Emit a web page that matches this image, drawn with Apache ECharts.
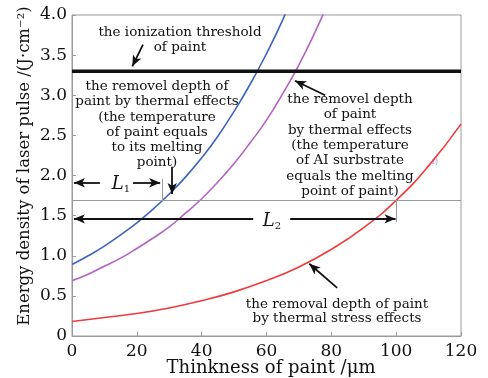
<!DOCTYPE html>
<html>
<head>
<meta charset="utf-8">
<script src="https://cdn.jsdelivr.net/npm/echarts@6/dist/echarts.min.js"></script>
<style>
  html, body { margin: 0; padding: 0; background: #fff; }
  #main { width: 488px; height: 378px; }
</style>
</head>
<body>
<div id="main"></div>
<script>
// thickness of paint (um) and energy density (J/cm2)
var xBlue = [0, 5, 10, 15, 20, 25, 30, 35, 40, 45, 50, 55, 60, 65, 70];
var blue = [0.89, 1.00, 1.12, 1.26, 1.41, 1.58, 1.77, 1.98, 2.22, 2.49, 2.80, 3.14, 3.52, 3.94, 4.42];
var xPurple = [0, 5, 10, 15, 20, 25, 30, 35, 40, 45, 50, 55, 60, 65, 70, 75, 80];
var purple = [0.69, 0.77, 0.87, 0.97, 1.09, 1.22, 1.36, 1.53, 1.71, 1.92, 2.15, 2.41, 2.69, 3.02, 3.38, 3.79, 4.24];
var xRed = [0, 10, 20, 30, 40, 50, 60, 70, 80, 90, 100, 110, 120];
var red = [0.18, 0.23, 0.28, 0.35, 0.44, 0.55, 0.69, 0.86, 1.08, 1.35, 1.69, 2.12, 2.64];
var threshold = 3.3;
var xTicks = [0, 20, 40, 60, 80, 100, 120];
var yTicks = [0, 0.5, 1.0, 1.5, 2.0, 2.5, 3.0, 3.5, 4.0];

// L1 / L2 guide values
var meltLevel = 1.69;
var L1end = 27.8;
var L2end = 100;

var serif = 'DejaVu Serif';
var gray = '#9a9a9a';
var ink = '#111';

function pairs(xs, ys) {
  return xs.map(function (x, i) { return [x, ys[i]]; });
}
function seg(a, b, color, width, arrow) {
  return [
    { coord: a, symbol: 'none' },
    { coord: b, symbol: arrow ? 'arrow' : 'none', symbolSize: [7, 11],
      lineStyle: { color: color, width: width, type: 'solid' } }
  ];
}

var chartDom = document.getElementById('main');
var myChart = echarts.init(chartDom);
var option;
option = {
  animation: false,
  grid: {
    left: 72, right: 27, top: 15, bottom: 42,
    show: true, borderColor: gray, borderWidth: 1
  },
  xAxis: {
    type: 'value',
    min: 0, max: 120, interval: 20,
    axisLine: { lineStyle: { color: gray } },
    axisTick: { inside: true, length: 4, lineStyle: { color: gray } },
    splitLine: { show: false },
    axisLabel: { color: ink, fontFamily: serif, fontSize: 17, margin: 7 }
  },
  yAxis: {
    type: 'value',
    min: 0, max: 4, interval: 0.5,
    axisLine: { show: true, lineStyle: { color: gray } },
    axisTick: { show: true, inside: true, length: 4, lineStyle: { color: gray } },
    splitLine: { show: false },
    axisLabel: {
      color: ink, fontFamily: serif, fontSize: 17, margin: 5,
      formatter: function (v) { return v === 0 ? '0' : v.toFixed(1); }
    }
  },
  series: [
    {
      name: 'blue', type: 'line', data: pairs(xBlue, blue),
      smooth: true, showSymbol: false, clip: true,
      lineStyle: { color: '#3f62c2', width: 1.6 }
    },
    {
      name: 'purple', type: 'line', data: pairs(xPurple, purple),
      smooth: true, showSymbol: false, clip: true,
      lineStyle: { color: '#b462c4', width: 1.6 }
    },
    {
      name: 'red', type: 'line', data: pairs(xRed, red),
      smooth: true, showSymbol: false, clip: true,
      lineStyle: { color: '#f03a3a', width: 1.6 }
    },
    {
      name: 'threshold', type: 'line',
      data: [[0, threshold], [120, threshold]],
      showSymbol: false,
      lineStyle: { color: ink, width: 3.5 },
      markLine: {
        silent: true,
        symbol: 'none',
        label: { show: false },
        data: [
          seg([0, meltLevel], [120, meltLevel], gray, 1, false),
          seg([L1end, meltLevel], [L1end, 1.96], gray, 1, false),
          seg([L2end, meltLevel], [L2end, 1.42], gray, 1, false),
          seg([8.6, 1.91], [0.6, 1.91], ink, 1.8, true),
          seg([18.8, 1.91], [27.2, 1.91], ink, 1.8, true),
          seg([55.9, 1.46], [0.6, 1.46], ink, 1.8, true),
          seg([67.3, 1.46], [99.8, 1.46], ink, 1.8, true),
          seg([30.9, 2.11], [30.9, 1.77], ink, 1.8, true),
          seg([21.9, 3.63], [18.6, 3.36], ink, 1.8, true),
          seg([78.1, 3.0], [68.8, 3.18], ink, 1.8, true),
          seg([81.8, 0.6], [73.2, 0.9], ink, 1.8, true)
        ]
      }
    }
  ],
  graphic: [
    {
      type: 'text', x: 25, y: 166, rotation: Math.PI / 2,
      style: {
        text: 'Energy density of laser pulse /(J·cm⁻²)',
        font: '16.5px "DejaVu Serif"', fill: ink,
        align: 'center', verticalAlign: 'middle'
      }
    },
    {
      type: 'text', x: 271, y: 368,
      style: {
        text: 'Thinkness of paint /μm',
        font: '18px "DejaVu Serif"', fill: ink,
        align: 'center', verticalAlign: 'middle'
      }
    },
    {
      type: 'text', x: 180, y: 25,
      style: {
        text: 'the ionization threshold\nof paint',
        font: '13.5px "DejaVu Serif"', fill: ink, lineHeight: 15,
        align: 'center', verticalAlign: 'top'
      }
    },
    {
      type: 'text', x: 157, y: 79,
      style: {
        text: 'the removel depth of\npaint by thermal effects\n(the temperature\nof paint equals\nto its melting\npoint)',
        font: '13.5px "DejaVu Serif"', fill: ink, lineHeight: 15.2,
        align: 'center', verticalAlign: 'top'
      }
    },
    {
      type: 'text', x: 350, y: 92,
      style: {
        text: 'the removel depth\nof paint\nby thermal effects\n(the temperature\nof AI surbstrate\nequals the melting\npoint of paint)',
        font: '13.5px "DejaVu Serif"', fill: ink, lineHeight: 15.3,
        align: 'center', verticalAlign: 'top'
      }
    },
    {
      type: 'text', x: 337, y: 297,
      style: {
        text: 'the removal depth of paint\nby thermal stress effects',
        font: '13.5px "DejaVu Serif"', fill: ink, lineHeight: 14,
        align: 'center', verticalAlign: 'top'
      }
    },
    {
      type: 'text', x: 121, y: 184,
      style: {
        text: '{i|L}{s|1}',
        align: 'center', verticalAlign: 'middle',
        rich: {
          i: { font: 'italic 18px "DejaVu Serif"', fill: ink },
          s: { font: '10px "DejaVu Serif"', fill: ink, padding: [10, 0, 0, 0] }
        }
      }
    },
    {
      type: 'text', x: 272, y: 221,
      style: {
        text: '{i|L}{s|2}',
        align: 'center', verticalAlign: 'middle',
        rich: {
          i: { font: 'italic 18px "DejaVu Serif"', fill: ink },
          s: { font: '10px "DejaVu Serif"', fill: ink, padding: [10, 0, 0, 0] }
        }
      }
    },
    {
      type: 'text', x: 435, y: 162,
      style: {
        text: 'ı)', font: '9px "DejaVu Serif"', fill: '#c98ad6',
        align: 'center', verticalAlign: 'middle'
      }
    }
  ]
};
myChart.setOption(option);
</script>
</body>
</html>
